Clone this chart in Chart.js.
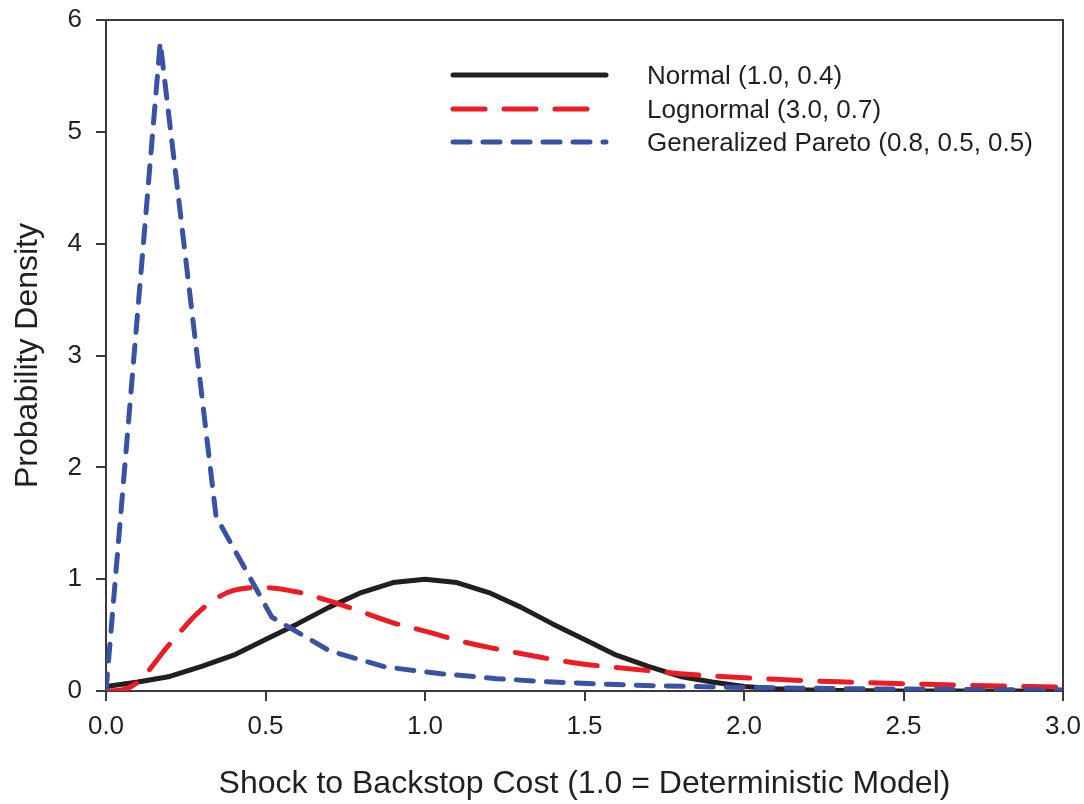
<!DOCTYPE html>
<html>
<head>
<meta charset="utf-8">
<script src="https://cdn.jsdelivr.net/npm/chart.js@4/dist/chart.umd.min.js"></script>
<style>
  html, body { margin: 0; padding: 0; background: #fff; }
  #chart { display: block; }
</style>
</head>
<body>
<canvas id="chart" width="1084" height="804"></canvas>
<script>
// values
const normalX = [0, 0.1, 0.2, 0.3, 0.4, 0.5, 0.6, 0.7, 0.8, 0.9, 1.0, 1.1, 1.2, 1.3, 1.4, 1.5,
    1.6, 1.7, 1.8, 1.9, 2.0, 2.1, 2.2, 2.3, 2.4, 2.5, 2.6, 2.7, 2.8, 2.9, 3.0];
const normalY = [0.04, 0.08, 0.13, 0.22, 0.32, 0.46, 0.60, 0.75, 0.88, 0.97, 1.00, 0.97, 0.88, 0.75, 0.60, 0.46,
    0.32, 0.22, 0.13, 0.08, 0.04, 0.02, 0.01, 0.005, 0.002, 0.001, 0, 0, 0, 0, 0];

const lognormalX = [0, 0.05, 0.1, 0.2, 0.3, 0.4, 0.5, 0.6, 0.7, 0.8, 0.9, 1.0, 1.1, 1.2, 1.3, 1.4, 1.5,
    1.6, 1.7, 1.8, 1.9, 2.0, 2.1, 2.2, 2.3, 2.4, 2.5, 2.6, 2.7, 2.8, 2.9, 3.0];
const lognormalY = [0, 0.01, 0.08, 0.42, 0.73, 0.90, 0.925, 0.885, 0.805, 0.71, 0.61, 0.535, 0.455, 0.39, 0.335, 0.283, 0.24,
    0.21, 0.182, 0.155, 0.135, 0.118, 0.104, 0.092, 0.082, 0.073, 0.065, 0.058, 0.051, 0.045, 0.04, 0.035];

const paretoX = [0, 0.17, 0.345, 0.52, 0.70, 0.875, 1.05, 1.225, 1.40, 1.575, 1.75, 1.925,
    2.10, 2.275, 2.45, 2.625, 2.80, 3.0];
const paretoY = [0, 5.8, 1.56, 0.66, 0.36, 0.215, 0.155, 0.11, 0.08, 0.06, 0.045, 0.035,
    0.028, 0.022, 0.018, 0.015, 0.012, 0.01];

const seriesNames = ['Normal (1.0, 0.4)', 'Lognormal (3.0, 0.7)', 'Generalized Pareto (0.8, 0.5, 0.5)'];
const xTicks = [0, 0.5, 1.0, 1.5, 2.0, 2.5, 3.0];
const yTicks = [0, 1, 2, 3, 4, 5, 6];

const FONT = '"Liberation Sans", Arial, Helvetica, sans-serif';
const INK = '#231f20';
const AXIS = '#3a3a3a';

function toPoints(xs, ys) {
    return xs.map((x, i) => ({ x: x, y: ys[i] }));
}

// top and right edges of the frame
const framePlugin = {
    id: 'frame',
    afterDraw(chart) {
        const { ctx, chartArea } = chart;
        ctx.save();
        ctx.strokeStyle = AXIS;
        ctx.lineWidth = 2;
        ctx.beginPath();
        ctx.moveTo(chartArea.left - 1, chartArea.top);
        ctx.lineTo(chartArea.right, chartArea.top);
        ctx.lineTo(chartArea.right, chartArea.bottom);
        ctx.stroke();
        ctx.restore();
    }
};

// legend drawn inside the plot, top right
const legendPlugin = {
    id: 'innerLegend',
    afterDraw(chart) {
        const ctx = chart.ctx;
        const rows = [75, 109, 142];
        ctx.save();
        chart.data.datasets.forEach((ds, i) => {
            const y = rows[i];
            ctx.strokeStyle = ds.borderColor;
            ctx.lineWidth = ds.borderWidth;
            ctx.lineCap = 'round';
            ctx.setLineDash(ds.borderDash || []);
            ctx.beginPath();
            ctx.moveTo(453, y);
            ctx.lineTo(606, y);
            ctx.stroke();
            ctx.setLineDash([]);
            ctx.fillStyle = INK;
            ctx.font = '26px ' + FONT;
            ctx.textBaseline = 'middle';
            ctx.textAlign = 'left';
            ctx.fillText(ds.label, 647, y + 2);
        });
        ctx.restore();
    }
};

const ctx = document.getElementById('chart').getContext('2d');

new Chart(ctx, {
    type: 'line',
    data: {
        datasets: [
            {
                label: seriesNames[0],
                data: toPoints(normalX, normalY),
                borderColor: '#231f20',
                borderWidth: 5,
                order: 3
            },
            {
                label: seriesNames[1],
                data: toPoints(lognormalX, lognormalY),
                borderColor: '#ed1c24',
                borderWidth: 5,
                borderDash: [32, 19],
                cubicInterpolationMode: 'monotone',
                order: 2
            },
            {
                label: seriesNames[2],
                data: toPoints(paretoX, paretoY),
                borderColor: '#3953a4',
                borderWidth: 5,
                borderDash: [17, 13],
                order: 1
            }
        ]
    },
    options: {
        responsive: false,
        animation: false,
        events: [],
        layout: { padding: { top: 20, right: 21, left: 0, bottom: 0 } },
        elements: {
            point: { radius: 0 },
            line: { tension: 0, fill: false, borderCapStyle: 'round', borderJoinStyle: 'round' }
        },
        plugins: {
            legend: { display: false },
            tooltip: { enabled: false }
        },
        scales: {
            x: {
                type: 'linear',
                min: 0,
                max: 3,
                afterFit(scale) {
                    scale.height = 113;
                    scale.paddingLeft = 0;
                    scale.paddingRight = 0;
                },
                afterBuildTicks(scale) { scale.ticks = xTicks.map(v => ({ value: v })); },
                ticks: {
                    color: INK,
                    padding: 10,
                    font: { family: FONT, size: 26 },
                    callback: v => v.toFixed(1)
                },
                grid: { drawOnChartArea: false, drawTicks: true, tickLength: 10, color: AXIS, lineWidth: 2 },
                border: { display: true, color: AXIS, width: 2 },
                title: {
                    display: true,
                    text: 'Shock to Backstop Cost (1.0 = Deterministic Model)',
                    color: INK,
                    font: { family: FONT, size: 32 },
                    padding: { top: 0, bottom: 1 }
                }
            },
            y: {
                min: 0,
                max: 6,
                afterFit(scale) {
                    scale.width = 106;
                    scale.paddingTop = 0;
                    scale.paddingBottom = 0;
                },
                afterBuildTicks(scale) { scale.ticks = yTicks.map(v => ({ value: v })); },
                ticks: {
                    color: INK,
                    padding: 14,
                    font: { family: FONT, size: 26 }
                },
                grid: { drawOnChartArea: false, drawTicks: true, tickLength: 10, color: AXIS, lineWidth: 2 },
                border: { display: true, color: AXIS, width: 2 },
                title: {
                    display: true,
                    text: 'Probability Density',
                    color: INK,
                    font: { family: FONT, size: 32 },
                    padding: { top: 9, bottom: 0 }
                }
            }
        }
    },
    plugins: [framePlugin, legendPlugin]
});
</script>
</body>
</html>
